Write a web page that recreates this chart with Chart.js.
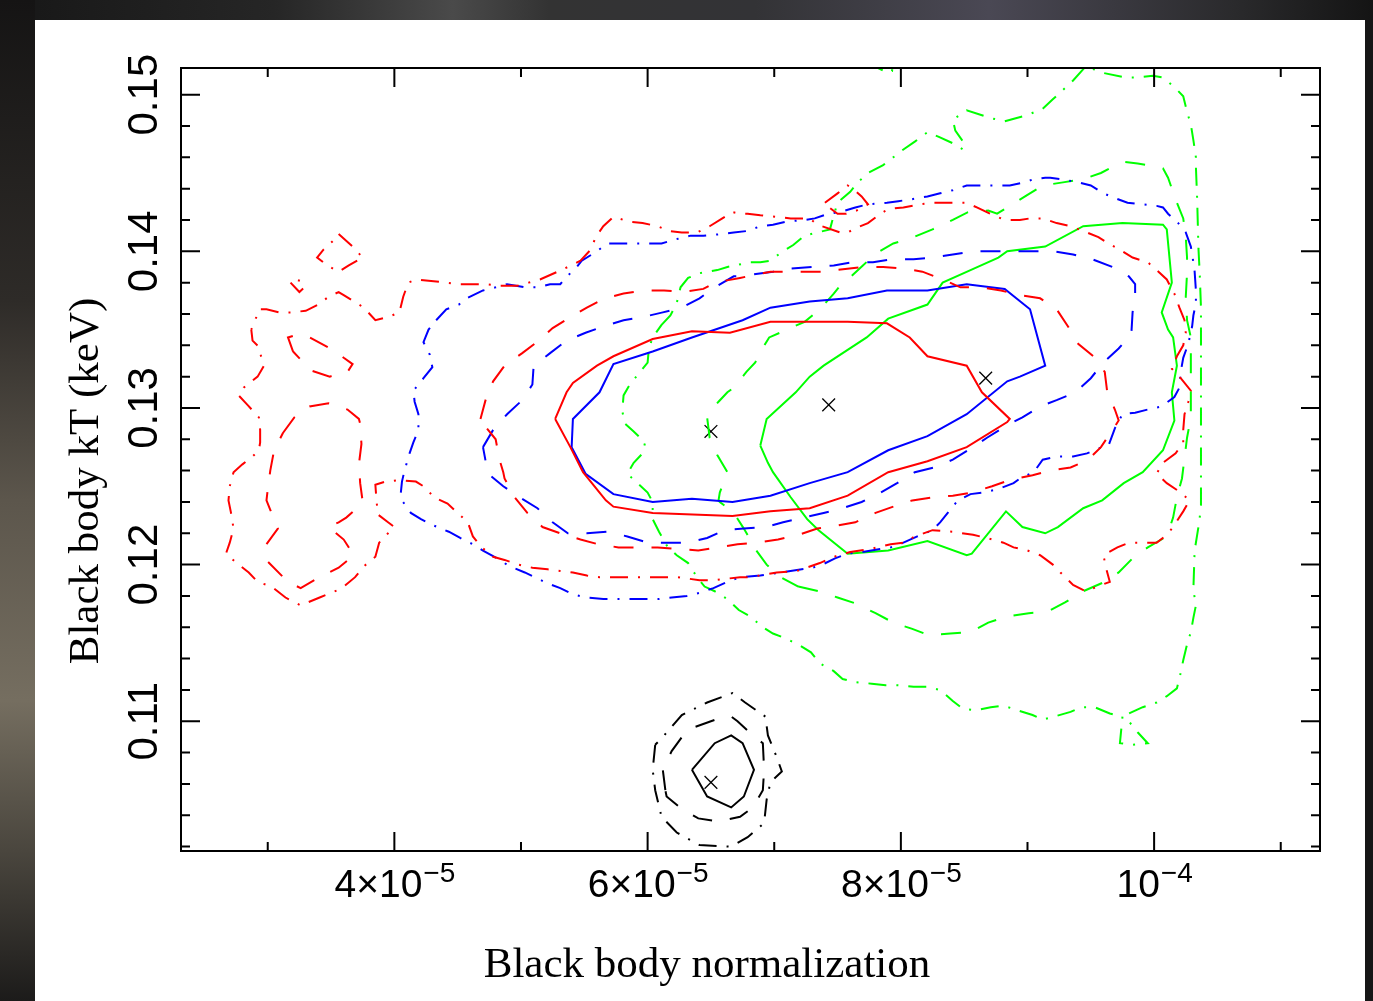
<!DOCTYPE html>
<html>
<head>
<meta charset="utf-8">
<title>Black body kT vs normalization</title>
<script src="https://cdn.jsdelivr.net/npm/chart.js@4.4.1/dist/chart.umd.min.js"></script>
<style>
  html, body { margin: 0; padding: 0; background: #141414; overflow: hidden; }
  canvas { display: block; }
</style>
</head>
<body>
<canvas id="chart" width="1373" height="1001"></canvas>
<script>
// x values are in units of 1e-5 (normalization), y in keV
const xMajorTicks = [4, 6, 8, 10];
const xMinorTicks = [3, 5, 7, 9, 11];
const xTickLabels = [['4\u00d710', '\u22125'], ['6\u00d710', '\u22125'], ['8\u00d710', '\u22125'], ['10', '\u22124']];
const yMajorTicks = [0.11, 0.12, 0.13, 0.14, 0.15];
const yTickLabels = ['0.11', '0.12', '0.13', '0.14', '0.15'];

// best fit positions
const bestFits = [[6.50, 0.1285], [7.43, 0.1302], [8.67, 0.1319], [6.50, 0.1061]];

// black contours
const blackSolid = [[6.35,0.1069],[6.53,0.1086],[6.66,0.1091],[6.75,0.1086],[6.84,0.1069],[6.76,0.1052],[6.66,0.1045],[6.47,0.1052],[6.35,0.1069]];
const blackDashed = [[6.14,0.1056],[6.12,0.1069],[6.19,0.1081],[6.28,0.1091],[6.36,0.1096],[6.57,0.1102],[6.66,0.1103],[6.71,0.1100],[6.83,0.1091],[6.91,0.1086],[6.92,0.1069],[6.91,0.1056],[6.83,0.1045],[6.73,0.1039],[6.56,0.1036],[6.40,0.1038],[6.27,0.1044],[6.15,0.1052],[6.14,0.1056]];
const blackDashDot = [[6.06,0.1085],[6.04,0.1069],[6.06,0.1056],[6.11,0.1039],[6.23,0.1029],[6.41,0.1021],[6.66,0.1020],[6.79,0.1026],[6.92,0.1035],[6.94,0.1050],[6.97,0.1061],[7.06,0.1068],[7.02,0.1077],[6.95,0.1091],[6.93,0.1103],[6.77,0.1112],[6.67,0.1118],[6.47,0.1112],[6.27,0.1104],[6.12,0.1090],[6.06,0.1085]];

// red contours
const redSolid = [[5.27,0.1293],[5.36,0.1310],[5.41,0.1316],[5.60,0.1327],[5.73,0.1333],[6.04,0.1344],[6.35,0.1349],[6.65,0.1348],[6.97,0.1355],[7.58,0.1355],[7.89,0.1354],[8.07,0.1345],[8.21,0.1333],[8.52,0.1327],[8.64,0.1310],[8.86,0.1293],[8.84,0.1291],[8.52,0.1275],[8.21,0.1266],[7.90,0.1259],[7.58,0.1244],[7.28,0.1236],[6.97,0.1234],[6.67,0.1231],[6.04,0.1233],[5.73,0.1237],[5.67,0.1241],[5.49,0.1259],[5.39,0.1275],[5.27,0.1293]];
const redDashed = [[4.68,0.1293],[4.72,0.1305],[4.78,0.1317],[4.87,0.1327],[5.01,0.1335],[5.14,0.1343],[5.25,0.1351],[5.39,0.1358],[5.52,0.1364],[5.66,0.1370],[5.81,0.1373],[5.98,0.1375],[6.13,0.1375],[6.28,0.1374],[6.44,0.1376],[6.53,0.1380],[6.73,0.1383],[6.97,0.1387],[7.23,0.1387],[7.38,0.1387],[7.70,0.1390],[7.86,0.1390],[8.02,0.1389],[8.17,0.1387],[8.33,0.1382],[8.47,0.1377],[8.63,0.1377],[8.79,0.1375],[8.94,0.1372],[9.10,0.1370],[9.23,0.1363],[9.32,0.1352],[9.40,0.1341],[9.52,0.1333],[9.61,0.1323],[9.63,0.1310],[9.69,0.1299],[9.72,0.1292],[9.68,0.1287],[9.58,0.1275],[9.48,0.1267],[9.34,0.1262],[9.18,0.1260],[9.04,0.1257],[8.86,0.1254],[8.72,0.1250],[8.56,0.1246],[8.41,0.1244],[8.26,0.1243],[8.09,0.1241],[7.94,0.1237],[7.80,0.1233],[7.64,0.1227],[7.50,0.1225],[7.34,0.1223],[7.19,0.1219],[7.03,0.1216],[6.87,0.1214],[6.71,0.1213],[6.56,0.1211],[6.40,0.1209],[6.24,0.1210],[6.08,0.1211],[5.92,0.1211],[5.77,0.1211],[5.61,0.1213],[5.47,0.1216],[5.31,0.1220],[5.17,0.1224],[5.05,0.1233],[4.95,0.1243],[4.87,0.1255],[4.86,0.1259],[4.83,0.1267],[4.80,0.1280],[4.70,0.1290],[4.68,0.1293]];
const redDashedIslandA = [[3.20,0.1336],[3.16,0.1345],[3.24,0.1347],[3.33,0.1345],[3.47,0.1339],[3.54,0.1336],[3.60,0.1332],[3.67,0.1328],[3.63,0.1323],[3.57,0.1322],[3.49,0.1320],[3.34,0.1324],[3.27,0.1330],[3.20,0.1336]];
const redDashedIslandB = [[3.12,0.1284],[3.21,0.1294],[3.33,0.1301],[3.48,0.1303],[3.63,0.1299],[3.72,0.1293],[3.73,0.1290],[3.74,0.1277],[3.72,0.1264],[3.73,0.1252],[3.75,0.1240],[3.69,0.1235],[3.62,0.1230],[3.56,0.1227],[3.48,0.1224],[3.54,0.1220],[3.60,0.1216],[3.68,0.1206],[3.62,0.1202],[3.56,0.1198],[3.41,0.1192],[3.26,0.1185],[3.16,0.1189],[3.11,0.1193],[3.00,0.1202],[2.99,0.1213],[3.08,0.1223],[3.02,0.1235],[2.99,0.1241],[3.00,0.1248],[3.02,0.1260],[3.05,0.1273],[3.12,0.1284]];
const redDashDot = [[2.87,0.1350],[2.88,0.1343],[2.93,0.1339],[2.94,0.1335],[2.97,0.1327],[2.92,0.1320],[2.81,0.1313],[2.77,0.1308],[2.84,0.1302],[2.93,0.1294],[2.94,0.1286],[2.94,0.1278],[2.93,0.1273],[2.88,0.1269],[2.80,0.1264],[2.73,0.1259],[2.70,0.1250],[2.69,0.1241],[2.71,0.1233],[2.73,0.1223],[2.70,0.1214],[2.67,0.1207],[2.77,0.1200],[2.85,0.1195],[2.92,0.1189],[3.03,0.1186],[3.14,0.1179],[3.26,0.1174],[3.41,0.1179],[3.56,0.1184],[3.60,0.1186],[3.69,0.1192],[3.76,0.1199],[3.85,0.1205],[3.88,0.1214],[3.95,0.1220],[4.00,0.1224],[3.95,0.1227],[3.87,0.1232],[3.86,0.1240],[3.85,0.1251],[3.93,0.1253],[4.04,0.1254],[4.17,0.1253],[4.25,0.1249],[4.31,0.1243],[4.42,0.1239],[4.50,0.1233],[4.58,0.1227],[4.62,0.1218],[4.69,0.1211],[4.78,0.1205],[4.87,0.1203],[4.98,0.1200],[5.09,0.1198],[5.21,0.1197],[5.31,0.1196],[5.41,0.1195],[5.52,0.1193],[5.62,0.1192],[5.74,0.1192],[5.92,0.1192],[6.08,0.1192],[6.24,0.1192],[6.41,0.1190],[6.52,0.1190],[6.73,0.1192],[6.81,0.1192],[7.02,0.1195],[7.18,0.1196],[7.36,0.1201],[7.47,0.1205],[7.60,0.1208],[7.76,0.1210],[7.92,0.1213],[8.02,0.1214],[8.11,0.1218],[8.25,0.1222],[8.41,0.1221],[8.57,0.1219],[8.68,0.1217],[8.81,0.1214],[8.89,0.1211],[9.00,0.1209],[9.10,0.1206],[9.20,0.1200],[9.26,0.1195],[9.36,0.1187],[9.46,0.1183],[9.55,0.1186],[9.65,0.1189],[9.62,0.1198],[9.60,0.1206],[9.71,0.1211],[9.80,0.1214],[9.91,0.1214],[10.02,0.1214],[10.10,0.1219],[10.15,0.1224],[10.23,0.1234],[10.28,0.1241],[10.21,0.1246],[10.10,0.1252],[10.02,0.1258],[10.07,0.1265],[10.17,0.1271],[10.23,0.1278],[10.23,0.1286],[10.24,0.1296],[10.27,0.1304],[10.29,0.1311],[10.21,0.1319],[10.14,0.1325],[10.18,0.1333],[10.23,0.1340],[10.25,0.1348],[10.24,0.1356],[10.20,0.1364],[10.16,0.1373],[10.10,0.1382],[10.02,0.1388],[9.95,0.1393],[9.83,0.1396],[9.73,0.1401],[9.64,0.1405],[9.56,0.1409],[9.44,0.1413],[9.34,0.1416],[9.23,0.1418],[9.12,0.1421],[9.02,0.1421],[8.94,0.1420],[8.82,0.1420],[8.73,0.1423],[8.60,0.1428],[8.52,0.1431],[8.37,0.1431],[8.26,0.1431],[8.15,0.1430],[8.02,0.1428],[7.90,0.1427],[7.84,0.1424],[7.74,0.1418],[7.65,0.1415],[7.58,0.1412],[7.52,0.1412],[7.34,0.1417],[7.28,0.1421],[7.23,0.1421],[7.13,0.1421],[7.02,0.1422],[6.89,0.1423],[6.79,0.1424],[6.73,0.1424],[6.67,0.1425],[6.59,0.1421],[6.49,0.1416],[6.39,0.1412],[6.27,0.1412],[6.17,0.1413],[6.08,0.1416],[5.96,0.1418],[5.85,0.1419],[5.73,0.1422],[5.65,0.1416],[5.59,0.1409],[5.55,0.1401],[5.47,0.1394],[5.37,0.1390],[5.29,0.1387],[5.15,0.1382],[5.06,0.1380],[4.97,0.1378],[4.83,0.1378],[4.72,0.1379],[4.61,0.1379],[4.51,0.1379],[4.41,0.1380],[4.29,0.1381],[4.17,0.1382],[4.11,0.1380],[4.07,0.1371],[4.04,0.1361],[3.95,0.1358],[3.85,0.1356],[3.76,0.1364],[3.68,0.1368],[3.60,0.1372],[3.56,0.1374],[3.48,0.1371],[3.40,0.1366],[3.30,0.1362],[3.18,0.1361],[3.09,0.1361],[2.99,0.1363],[2.93,0.1363],[2.91,0.1358],[2.87,0.1350]];
const redDashDotIslandA = [[3.56,0.1411],[3.67,0.1403],[3.75,0.1396],[3.64,0.1391],[3.56,0.1387],[3.47,0.1391],[3.39,0.1396],[3.44,0.1401],[3.52,0.1407],[3.56,0.1411]];
const redDashDotIslandB = [[3.18,0.1380],[3.25,0.1374],[3.29,0.1377],[3.26,0.1381],[3.22,0.1382],[3.18,0.1380]];
const redDashDotIslandC = [[7.40,0.1431],[7.50,0.1437],[7.58,0.1442],[7.62,0.1440],[7.69,0.1435],[7.74,0.1430],[7.65,0.1426],[7.57,0.1424],[7.50,0.1424],[7.40,0.1430],[7.40,0.1431]];

// blue contours
const blueSolid = [[5.40,0.1275],[5.41,0.1293],[5.62,0.1310],[5.73,0.1328],[6.04,0.1336],[6.35,0.1345],[6.75,0.1356],[6.97,0.1364],[7.28,0.1368],[7.58,0.1370],[7.89,0.1375],[8.21,0.1375],[8.52,0.1379],[8.82,0.1376],[9.02,0.1363],[9.14,0.1327],[8.94,0.1320],[8.84,0.1317],[8.52,0.1296],[8.21,0.1282],[7.90,0.1273],[7.58,0.1259],[7.28,0.1252],[6.97,0.1244],[6.67,0.1240],[6.35,0.1242],[6.04,0.1240],[5.73,0.1245],[5.51,0.1258],[5.40,0.1275]];
const blueDashed = [[4.70,0.1275],[4.78,0.1286],[4.89,0.1296],[5.01,0.1305],[5.09,0.1315],[5.10,0.1327],[5.23,0.1335],[5.36,0.1343],[5.51,0.1348],[5.65,0.1352],[5.81,0.1356],[5.96,0.1358],[6.12,0.1361],[6.27,0.1364],[6.41,0.1370],[6.53,0.1377],[6.68,0.1384],[6.73,0.1384],[6.99,0.1387],[7.13,0.1389],[7.30,0.1390],[7.47,0.1391],[7.62,0.1393],[7.78,0.1393],[7.94,0.1395],[8.10,0.1395],[8.26,0.1396],[8.41,0.1398],[8.57,0.1400],[8.73,0.1400],[8.94,0.1400],[9.20,0.1400],[9.36,0.1398],[9.51,0.1395],[9.67,0.1390],[9.80,0.1384],[9.85,0.1379],[9.85,0.1373],[9.83,0.1361],[9.82,0.1347],[9.72,0.1338],[9.60,0.1329],[9.50,0.1319],[9.38,0.1310],[9.23,0.1305],[9.10,0.1301],[8.96,0.1294],[8.84,0.1289],[8.68,0.1281],[8.55,0.1274],[8.41,0.1267],[8.26,0.1262],[8.11,0.1259],[7.97,0.1252],[7.84,0.1246],[7.69,0.1240],[7.54,0.1236],[7.39,0.1233],[7.23,0.1230],[7.07,0.1227],[6.93,0.1224],[6.76,0.1223],[6.61,0.1222],[6.47,0.1217],[6.31,0.1214],[6.15,0.1214],[6.00,0.1214],[5.84,0.1218],[5.68,0.1221],[5.52,0.1220],[5.37,0.1220],[5.25,0.1227],[5.13,0.1236],[4.99,0.1243],[4.86,0.1250],[4.74,0.1258],[4.73,0.1262],[4.70,0.1275]];
const blueDashDot = [[4.33,0.1356],[4.41,0.1363],[4.51,0.1366],[4.57,0.1370],[4.70,0.1375],[4.80,0.1377],[4.89,0.1379],[5.03,0.1377],[5.14,0.1377],[5.23,0.1379],[5.31,0.1379],[5.35,0.1383],[5.43,0.1389],[5.48,0.1394],[5.60,0.1400],[5.68,0.1405],[5.78,0.1405],[5.92,0.1405],[6.00,0.1405],[6.11,0.1405],[6.24,0.1408],[6.34,0.1410],[6.44,0.1410],[6.59,0.1411],[6.68,0.1412],[6.79,0.1413],[6.89,0.1416],[6.99,0.1417],[7.10,0.1419],[7.24,0.1420],[7.32,0.1421],[7.43,0.1424],[7.52,0.1425],[7.64,0.1428],[7.74,0.1430],[7.89,0.1431],[7.98,0.1432],[8.07,0.1433],[8.21,0.1435],[8.31,0.1437],[8.41,0.1439],[8.52,0.1442],[8.63,0.1442],[8.73,0.1442],[8.86,0.1442],[8.97,0.1444],[9.05,0.1446],[9.14,0.1447],[9.18,0.1447],[9.27,0.1446],[9.40,0.1444],[9.50,0.1442],[9.60,0.1437],[9.69,0.1434],[9.79,0.1431],[9.91,0.1430],[10.02,0.1429],[10.07,0.1428],[10.11,0.1424],[10.19,0.1418],[10.25,0.1412],[10.29,0.1403],[10.31,0.1393],[10.32,0.1387],[10.33,0.1375],[10.33,0.1367],[10.31,0.1359],[10.30,0.1352],[10.27,0.1341],[10.23,0.1332],[10.21,0.1323],[10.20,0.1313],[10.16,0.1307],[10.06,0.1301],[9.95,0.1299],[9.85,0.1297],[9.75,0.1296],[9.69,0.1287],[9.64,0.1276],[9.59,0.1275],[9.47,0.1271],[9.36,0.1269],[9.23,0.1269],[9.12,0.1267],[9.05,0.1259],[8.94,0.1255],[8.89,0.1252],[8.76,0.1248],[8.65,0.1246],[8.55,0.1245],[8.45,0.1241],[8.37,0.1233],[8.31,0.1227],[8.25,0.1222],[8.13,0.1218],[8.02,0.1214],[7.92,0.1211],[7.69,0.1208],[7.58,0.1207],[7.48,0.1204],[7.38,0.1200],[7.30,0.1198],[7.05,0.1195],[6.89,0.1193],[6.73,0.1192],[6.63,0.1189],[6.52,0.1185],[6.41,0.1182],[6.31,0.1180],[6.19,0.1179],[6.08,0.1178],[5.98,0.1178],[5.85,0.1178],[5.74,0.1178],[5.65,0.1178],[5.52,0.1179],[5.41,0.1181],[5.31,0.1185],[5.21,0.1188],[5.11,0.1192],[5.03,0.1195],[4.91,0.1199],[4.81,0.1204],[4.70,0.1209],[4.62,0.1213],[4.52,0.1217],[4.43,0.1221],[4.31,0.1225],[4.21,0.1229],[4.13,0.1233],[4.06,0.1241],[4.05,0.1245],[4.06,0.1253],[4.08,0.1260],[4.12,0.1271],[4.15,0.1278],[4.19,0.1286],[4.19,0.1296],[4.16,0.1304],[4.15,0.1311],[4.23,0.1319],[4.30,0.1326],[4.28,0.1334],[4.23,0.1342],[4.27,0.1350],[4.33,0.1356]];

// green contours
const greenSolid = [[6.89,0.1276],[6.94,0.1293],[7.17,0.1310],[7.28,0.1320],[7.39,0.1327],[7.73,0.1345],[7.90,0.1357],[8.21,0.1366],[8.33,0.1380],[8.55,0.1388],[8.77,0.1396],[8.84,0.1400],[9.14,0.1403],[9.44,0.1416],[9.75,0.1418],[10.07,0.1417],[10.10,0.1414],[10.14,0.1380],[10.06,0.1361],[10.11,0.1350],[10.15,0.1345],[10.18,0.1327],[10.14,0.1310],[10.16,0.1292],[10.07,0.1273],[9.91,0.1259],[9.76,0.1252],[9.59,0.1241],[9.44,0.1236],[9.24,0.1224],[9.14,0.1220],[8.96,0.1224],[8.83,0.1234],[8.56,0.1207],[8.52,0.1206],[8.21,0.1215],[7.90,0.1209],[7.58,0.1207],[7.35,0.1222],[7.26,0.1229],[7.13,0.1243],[6.99,0.1259],[6.95,0.1265],[6.89,0.1276]];
const greenDashed = [[7.19,0.1186],[7.35,0.1183],[7.50,0.1179],[7.65,0.1175],[7.80,0.1169],[7.94,0.1163],[8.09,0.1159],[8.22,0.1155],[8.39,0.1156],[8.55,0.1157],[8.69,0.1163],[8.84,0.1167],[9.01,0.1169],[9.16,0.1170],[9.30,0.1176],[9.44,0.1183],[9.61,0.1189],[9.72,0.1195],[9.83,0.1204],[9.95,0.1211],[10.10,0.1218],[10.15,0.1230],[10.18,0.1243],[10.22,0.1255],[10.24,0.1268],[10.26,0.1281],[10.29,0.1294],[10.29,0.1306],[10.29,0.1320],[10.29,0.1333],[10.29,0.1345],[10.26,0.1356],[10.25,0.1371],[10.26,0.1386],[10.26,0.1396],[10.25,0.1409],[10.23,0.1421],[10.17,0.1433],[10.11,0.1447],[10.07,0.1453],[10.02,0.1454],[9.87,0.1456],[9.77,0.1457],[9.72,0.1456],[9.58,0.1450],[9.44,0.1446],[9.28,0.1444],[9.12,0.1442],[9.00,0.1436],[8.84,0.1428],[8.76,0.1424],[8.69,0.1426],[8.53,0.1425],[8.41,0.1420],[8.25,0.1414],[8.10,0.1409],[7.94,0.1405],[7.81,0.1399],[7.70,0.1391],[7.58,0.1382],[7.54,0.1380],[7.47,0.1373],[7.36,0.1363],[7.24,0.1355],[7.10,0.1350],[6.96,0.1345],[6.87,0.1333],[6.85,0.1329],[6.78,0.1323],[6.68,0.1313],[6.63,0.1310],[6.56,0.1304],[6.51,0.1299],[6.47,0.1294],[6.49,0.1281],[6.55,0.1270],[6.63,0.1259],[6.57,0.1246],[6.56,0.1241],[6.57,0.1240],[6.68,0.1233],[6.76,0.1223],[6.81,0.1216],[6.84,0.1211],[6.94,0.1200],[7.05,0.1192],[7.19,0.1186]];
const greenDashDot = [[6.11,0.1353],[6.18,0.1359],[6.23,0.1367],[6.26,0.1377],[6.32,0.1383],[6.41,0.1386],[6.55,0.1388],[6.63,0.1390],[6.75,0.1392],[6.81,0.1393],[6.89,0.1393],[6.97,0.1394],[7.05,0.1399],[7.15,0.1404],[7.24,0.1410],[7.34,0.1412],[7.44,0.1414],[7.47,0.1423],[7.50,0.1431],[7.60,0.1438],[7.66,0.1444],[7.74,0.1450],[7.86,0.1455],[7.94,0.1460],[8.02,0.1465],[8.11,0.1470],[8.21,0.1476],[8.30,0.1473],[8.41,0.1469],[8.49,0.1465],[8.50,0.1469],[8.43,0.1477],[8.41,0.1484],[8.52,0.1490],[8.71,0.1485],[8.82,0.1483],[9.00,0.1487],[9.12,0.1491],[9.20,0.1497],[9.28,0.1503],[9.36,0.1509],[9.46,0.1518],[9.53,0.1516],[9.59,0.1514],[9.77,0.1511],[9.87,0.1511],[9.99,0.1512],[10.07,0.1511],[10.17,0.1504],[10.23,0.1499],[10.26,0.1489],[10.29,0.1481],[10.31,0.1471],[10.33,0.1460],[10.33,0.1454],[10.34,0.1433],[10.35,0.1402],[10.36,0.1386],[10.37,0.1364],[10.37,0.1352],[10.37,0.1338],[10.37,0.1319],[10.37,0.1299],[10.37,0.1284],[10.37,0.1265],[10.37,0.1250],[10.37,0.1238],[10.36,0.1230],[10.35,0.1224],[10.32,0.1209],[10.31,0.1184],[10.33,0.1174],[10.31,0.1166],[10.29,0.1157],[10.26,0.1149],[10.23,0.1139],[10.21,0.1131],[10.18,0.1121],[10.10,0.1116],[10.02,0.1112],[9.91,0.1109],[9.80,0.1105],[9.80,0.1100],[9.87,0.1093],[9.95,0.1086],[9.83,0.1085],[9.73,0.1086],[9.75,0.1103],[9.65,0.1105],[9.53,0.1109],[9.43,0.1109],[9.34,0.1106],[9.21,0.1103],[9.12,0.1101],[9.04,0.1104],[8.92,0.1107],[8.81,0.1110],[8.71,0.1109],[8.59,0.1107],[8.49,0.1108],[8.41,0.1113],[8.31,0.1120],[8.21,0.1122],[8.10,0.1122],[7.98,0.1123],[7.88,0.1123],[7.77,0.1124],[7.64,0.1125],[7.54,0.1127],[7.47,0.1132],[7.36,0.1137],[7.29,0.1144],[7.21,0.1148],[7.09,0.1153],[6.99,0.1156],[6.91,0.1160],[6.81,0.1167],[6.72,0.1171],[6.63,0.1178],[6.53,0.1183],[6.45,0.1186],[6.39,0.1192],[6.32,0.1201],[6.23,0.1206],[6.16,0.1211],[6.09,0.1221],[6.04,0.1229],[6.04,0.1240],[6.00,0.1246],[5.92,0.1252],[5.84,0.1258],[5.89,0.1265],[5.96,0.1271],[5.98,0.1278],[5.89,0.1285],[5.82,0.1290],[5.80,0.1298],[5.81,0.1308],[5.86,0.1315],[5.92,0.1321],[6.00,0.1329],[6.01,0.1338],[6.04,0.1345],[6.11,0.1353]];
const greenDashDotTop = [[7.80,0.1525],[7.82,0.1517],[7.89,0.1514],[7.93,0.1515],[7.95,0.1525]];

const SOLID = [];
const DASHED = [20, 18];
const DASHDOT = [18, 10, 2, 10];

function contour(points, color, dash) {
    return {
        data: points.map(p => ({ x: p[0], y: p[1] })),
        showLine: true,
        borderColor: color,
        backgroundColor: color,
        borderWidth: 2,
        borderDash: dash,
        pointRadius: 0,
        pointHoverRadius: 0,
        fill: false,
        tension: 0
    };
}

// dark photographic surround + white panel
const backdrop = {
    id: 'backdrop',
    beforeDraw(chart) {
        const ctx = chart.ctx;
        const W = chart.width, H = chart.height;
        ctx.save();
        ctx.fillStyle = '#161616';
        ctx.fillRect(0, 0, W, H);

        const gl = ctx.createLinearGradient(0, 0, 0, H);
        gl.addColorStop(0, '#151414');
        gl.addColorStop(0.3, '#2e2b28');
        gl.addColorStop(0.5, '#5c564c');
        gl.addColorStop(0.7, '#756e60');
        gl.addColorStop(0.85, '#4a463e');
        gl.addColorStop(1, '#1c1b1a');
        ctx.fillStyle = gl;
        ctx.fillRect(0, 0, 35, H);

        const gt = ctx.createLinearGradient(0, 0, W, 0);
        gt.addColorStop(0, '#171717');
        gt.addColorStop(0.2, '#262626');
        gt.addColorStop(0.33, '#4a4a4a');
        gt.addColorStop(0.4, '#333333');
        gt.addColorStop(0.55, '#333336');
        gt.addColorStop(0.72, '#4a4854');
        gt.addColorStop(0.9, '#2a2a2c');
        gt.addColorStop(1, '#141414');
        ctx.fillStyle = gt;
        ctx.fillRect(35, 0, W - 35, 20);

        ctx.fillStyle = '#ffffff';
        ctx.fillRect(35, 20, 1330, H - 20);
        ctx.restore();
    }
};

// frame, inward ticks on all four sides, labels and titles
const frameAndAxes = {
    id: 'frameAndAxes',
    afterDatasetsDraw(chart) {
        const ctx = chart.ctx;
        const a = chart.chartArea;
        const xs = chart.scales.x, ys = chart.scales.y;
        ctx.save();
        ctx.strokeStyle = '#000';
        ctx.lineWidth = 2;
        ctx.strokeRect(a.left, a.top, a.right - a.left, a.bottom - a.top);

        const major = 19, minor = 9;
        ctx.beginPath();
        xMajorTicks.forEach(v => {
            const px = xs.getPixelForValue(v);
            ctx.moveTo(px, a.bottom); ctx.lineTo(px, a.bottom - major);
            ctx.moveTo(px, a.top); ctx.lineTo(px, a.top + major);
        });
        xMinorTicks.forEach(v => {
            const px = xs.getPixelForValue(v);
            ctx.moveTo(px, a.bottom); ctx.lineTo(px, a.bottom - minor);
            ctx.moveTo(px, a.top); ctx.lineTo(px, a.top + minor);
        });
        for (let k = 51; k <= 75; k++) {
            const v = k * 0.002;
            const isMajor = k % 5 === 0;
            const len = isMajor ? major : minor;
            const py = ys.getPixelForValue(v);
            ctx.moveTo(a.left, py); ctx.lineTo(a.left + len, py);
            ctx.moveTo(a.right, py); ctx.lineTo(a.right - len, py);
        }
        ctx.stroke();

        // y tick labels, rotated
        ctx.fillStyle = '#000';
        ctx.font = '42px "Liberation Sans", Arial, sans-serif';
        ctx.textAlign = 'center';
        ctx.textBaseline = 'alphabetic';
        yMajorTicks.forEach((v, i) => {
            const py = ys.getPixelForValue(v);
            ctx.save();
            ctx.translate(157, py);
            ctx.rotate(-Math.PI / 2);
            ctx.fillText(yTickLabels[i], 0, 0);
            ctx.restore();
        });

        // x tick labels with superscript exponent
        const mainFont = '39px "Liberation Sans", Arial, sans-serif';
        const supFont = '28px "Liberation Sans", Arial, sans-serif';
        ctx.textAlign = 'left';
        xMajorTicks.forEach((v, i) => {
            const px = xs.getPixelForValue(v);
            const [base, exp] = xTickLabels[i];
            ctx.font = mainFont;
            const wb = ctx.measureText(base).width;
            ctx.font = supFont;
            const we = ctx.measureText(exp).width;
            const x0 = px - (wb + we) / 2;
            ctx.font = mainFont;
            ctx.fillText(base, x0, 897);
            ctx.font = supFont;
            ctx.fillText(exp, x0 + wb + 1, 882);
        });

        // axis titles
        ctx.font = '43px "Liberation Serif", "Times New Roman", serif';
        ctx.textAlign = 'center';
        ctx.fillText('Black body normalization', 707, 977);
        ctx.save();
        ctx.translate(98, 481);
        ctx.rotate(-Math.PI / 2);
        ctx.fillText('Black body kT (keV)', 0, 0);
        ctx.restore();
        ctx.restore();
    }
};

new Chart(document.getElementById('chart'), {
    type: 'scatter',
    data: {
        datasets: [
            contour(redDashDot, '#ff0000', DASHDOT),
            contour(redDashDotIslandA, '#ff0000', DASHDOT),
            contour(redDashDotIslandB, '#ff0000', DASHDOT),
            contour(redDashDotIslandC, '#ff0000', DASHDOT),
            contour(redDashed, '#ff0000', DASHED),
            contour(redDashedIslandA, '#ff0000', DASHED),
            contour(redDashedIslandB, '#ff0000', DASHED),
            contour(redSolid, '#ff0000', SOLID),
            contour(blueDashDot, '#0000ff', DASHDOT),
            contour(blueDashed, '#0000ff', DASHED),
            contour(blueSolid, '#0000ff', SOLID),
            contour(greenDashDot, '#00ff00', DASHDOT),
            contour(greenDashDotTop, '#00ff00', DASHDOT),
            contour(greenDashed, '#00ff00', DASHED),
            contour(greenSolid, '#00ff00', SOLID),
            contour(blackDashDot, '#000000', DASHDOT),
            contour(blackDashed, '#000000', DASHED),
            contour(blackSolid, '#000000', SOLID),
            {
                data: bestFits.map(p => ({ x: p[0], y: p[1] })),
                showLine: false,
                pointStyle: 'crossRot',
                pointRadius: 9,
                borderColor: '#000',
                borderWidth: 1.3
            }
        ]
    },
    options: {
        responsive: false,
        animation: false,
        devicePixelRatio: 1,
        layout: { padding: { left: 181, top: 68, right: 53, bottom: 150 } },
        plugins: { legend: { display: false }, tooltip: { enabled: false } },
        scales: {
            x: { type: 'linear', min: 2.315, max: 11.31, display: false },
            y: { type: 'linear', min: 0.10172, max: 0.1517, display: false }
        }
    },
    plugins: [backdrop, frameAndAxes]
});
</script>
</body>
</html>
